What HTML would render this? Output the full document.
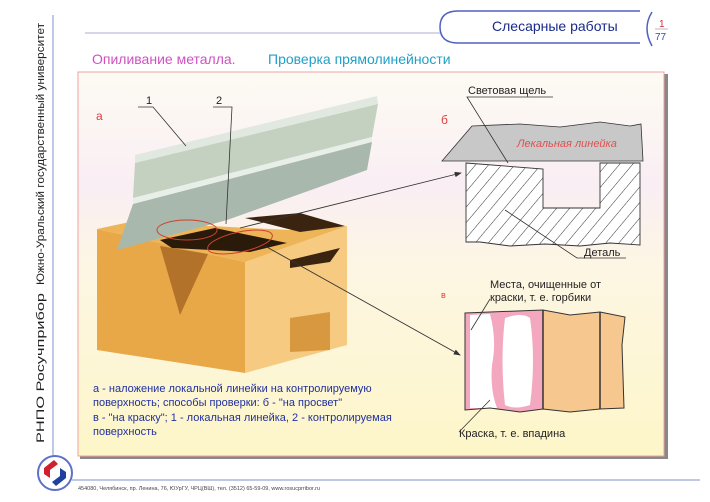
<!DOCTYPE html>
<html><head><meta charset="utf-8"><style>
html,body{margin:0;padding:0;background:#fff;width:710px;height:502px;overflow:hidden}
svg{display:block;font-family:"Liberation Sans","DejaVu Sans",sans-serif}
</style></head><body>
<svg width="710" height="502" viewBox="0 0 710 502">
<defs>
<linearGradient id="bg" x1="0" y1="0" x2="0" y2="1">
<stop offset="0" stop-color="#fdfbf3"/><stop offset="0.3" stop-color="#f9eef3"/><stop offset="0.5" stop-color="#fdf6e4"/><stop offset="1" stop-color="#fdf6c8"/>
</linearGradient>
<pattern id="hatch" width="10" height="10" patternUnits="userSpaceOnUse" patternTransform="rotate(40)">
<rect width="10" height="10" fill="#fff"/><line x1="0" y1="0" x2="0" y2="10" stroke="#333" stroke-width="1"/>
</pattern>
<marker id="ar" markerWidth="8" markerHeight="6" refX="7" refY="3" orient="auto"><path d="M0,0 L8,3 L0,6 z" fill="#333"/></marker>
</defs>
<line x1="85" y1="33" x2="440" y2="33" stroke="#c8c8e0" stroke-width="1.5"/>
<path d="M640,11 L458,11 Q440,11 440,27 Q440,43 458,43 L640,43" fill="#fff" stroke="#5060c0" stroke-width="1.5"/>
<text x="492" y="31" font-size="14" fill="#1a2a8a">Слесарные работы</text>
<path d="M652,12 Q642,28 652,46" fill="none" stroke="#5060c0" stroke-width="1.5"/>
<text x="659" y="27" font-size="10" fill="#d03040">1</text>
<line x1="655" y1="29" x2="668" y2="29" stroke="#888" stroke-width="0.6"/>
<text x="655" y="40" font-size="10" fill="#3050b0">77</text>
<line x1="53" y1="15" x2="53" y2="456" stroke="#8090d0" stroke-width="1"/>
<text transform="translate(44,285) rotate(-90)" font-size="11" fill="#222" textLength="262" lengthAdjust="spacingAndGlyphs">Южно-Уральский государственный университет</text>
<text transform="translate(44,443) rotate(-90)" font-size="11" fill="#222" textLength="150" lengthAdjust="spacingAndGlyphs">РНПО Росучприбор</text>
<circle cx="55" cy="473" r="17" fill="#fff" stroke="#6070c8" stroke-width="2"/>
<path d="M44,468 L54,460 L58,464 L50,470 L50,478 L44,474 z" fill="#d02030"/>
<path d="M66,478 L56,486 L52,482 L60,476 L60,468 L66,472 z" fill="#2040a0"/>
<line x1="72" y1="480" x2="700" y2="480" stroke="#8090d0" stroke-width="1"/>
<text x="78" y="490" font-size="5.5" fill="#444">454080, Челябинск, пр. Ленина, 76, ЮУрГУ, ЧРЦ(ВШ), тел. (3512) 65-59-09, www.rosucprribor.ru</text>
<text x="92" y="64" font-size="14" fill="#d050c0">Опиливание металла.</text>
<text x="268" y="64" font-size="14" fill="#20a0c8">Проверка прямолинейности</text>
<rect x="80" y="74" width="588" height="385" fill="#888"/>
<rect x="78" y="72" width="586" height="384" fill="url(#bg)" stroke="#f0a0a0" stroke-width="1"/>
<text x="96" y="120" font-size="12" fill="#e04040">а</text>
<text x="441" y="124" font-size="12" fill="#e04040">б</text>
<text x="441" y="298" font-size="9" fill="#e04040">в</text>
<polygon points="97,229 245,262 245,373 97,350" fill="#e8a848"/>
<polygon points="245,262 347,226 347,345 245,373" fill="#f6ca80"/>
<polygon points="97,229 130,222 290,230 347,226 245,262" fill="#eeb458"/>
<polygon points="160,240 215,228 287,243 250,252 172,248" fill="#2a1a0a"/>
<polygon points="245,218 300,213 345,226 300,232" fill="#3a2410"/>
<polygon points="290,260 340,248 330,262 290,268" fill="#3a2410"/>
<polygon points="290,318 330,312 330,350 290,352" fill="#d89840"/>
<polygon points="160,246 208,254 180,315" fill="#a06020" opacity="0.75"/>
<polygon points="135,155 377,96 378,104 135,163" fill="#e0e8e0"/>
<polygon points="135,163 378,104 372,137 133,198" fill="#c4d0c0"/>
<polygon points="133,198 372,137 372,142 133,204" fill="#e8efe8"/>
<polygon points="133,204 372,142 367,170 227,220 117,250" fill="#a8b8ac"/>
<ellipse cx="187" cy="230" rx="30" ry="10" fill="none" stroke="#d04030" stroke-width="1"/>
<ellipse cx="240" cy="242" rx="33" ry="10" transform="rotate(-12 240 242)" fill="none" stroke="#d04030" stroke-width="1"/>
<text x="146" y="104" font-size="11" fill="#222">1</text>
<polyline points="138,107 153,107 186,146" fill="none" stroke="#333" stroke-width="0.8"/>
<text x="216" y="104" font-size="11" fill="#222">2</text>
<polyline points="213,107 232,107 226,224" fill="none" stroke="#333" stroke-width="0.8"/>
<line x1="240" y1="228" x2="461" y2="173" stroke="#333" stroke-width="0.9" marker-end="url(#ar)"/>
<line x1="265" y1="246" x2="460" y2="355" stroke="#333" stroke-width="0.9" marker-end="url(#ar)"/>
<polygon points="442,161 472,126 520,124 560,127 600,122 630,126 641,124 643,161" fill="#c8c8c8" stroke="#333" stroke-width="0.8"/>
<text x="517" y="147" font-size="11" font-style="italic" fill="#e05050">Лекальная линейка</text>
<polygon points="466,163 543,169 543,208 600,208 600,163 640,163 640,245 610,243 580,246 545,244 510,246 480,242 466,242" fill="url(#hatch)" stroke="#333" stroke-width="0.9"/>
<text x="468" y="94" font-size="11" fill="#222">Световая щель</text>
<polyline points="553,97 467,97 508,163" fill="none" stroke="#333" stroke-width="0.8"/>
<text x="584" y="256" font-size="11" fill="#222">Деталь</text>
<polyline points="626,258 577,258 505,210" fill="none" stroke="#333" stroke-width="0.8"/>
<polygon points="465,313 543,310 543,409 520,412 490,408 465,410" fill="#f4a8c0"/>
<path d="M470,315 L490,314 Q497,340 492,365 Q490,390 497,408 L470,408 z" fill="#fff"/>
<path d="M505,318 Q522,312 530,318 Q536,360 530,405 Q515,410 505,405 Q500,360 505,318 z" fill="#fff"/>
<polygon points="543,310 570,315 600,312 625,317 622,345 624,408 600,409 570,412 543,409" fill="#f6c890"/>
<polygon points="465,313 543,310 570,315 600,312 625,317 622,345 624,408 600,409 570,412 543,409 520,412 490,408 465,410" fill="none" stroke="#333" stroke-width="1"/>
<line x1="543" y1="310" x2="543" y2="409" stroke="#333" stroke-width="1.5"/>
<line x1="600" y1="312" x2="600" y2="409" stroke="#333" stroke-width="1.5"/>
<text x="490" y="288" font-size="11" fill="#222">Места, очищенные от</text>
<text x="490" y="301" font-size="11" fill="#222">краски, т. е. горбики</text>
<line x1="490" y1="299" x2="471" y2="330" stroke="#333" stroke-width="0.8"/>
<text x="459" y="437" font-size="11" fill="#222">Краска, т. е. впадина</text>
<line x1="459" y1="432" x2="490" y2="400" stroke="#333" stroke-width="0.8"/>
<g font-size="11" fill="#2030a0">
<text x="93" y="392">а - наложение локальной линейки на контролируемую</text>
<text x="93" y="406">поверхность; способы проверки: б - "на просвет"</text>
<text x="93" y="421">в - "на краску"; 1 - локальная  линейка, 2 - контролируемая</text>
<text x="93" y="435">поверхность</text>
</g>
</svg>
</body></html>
